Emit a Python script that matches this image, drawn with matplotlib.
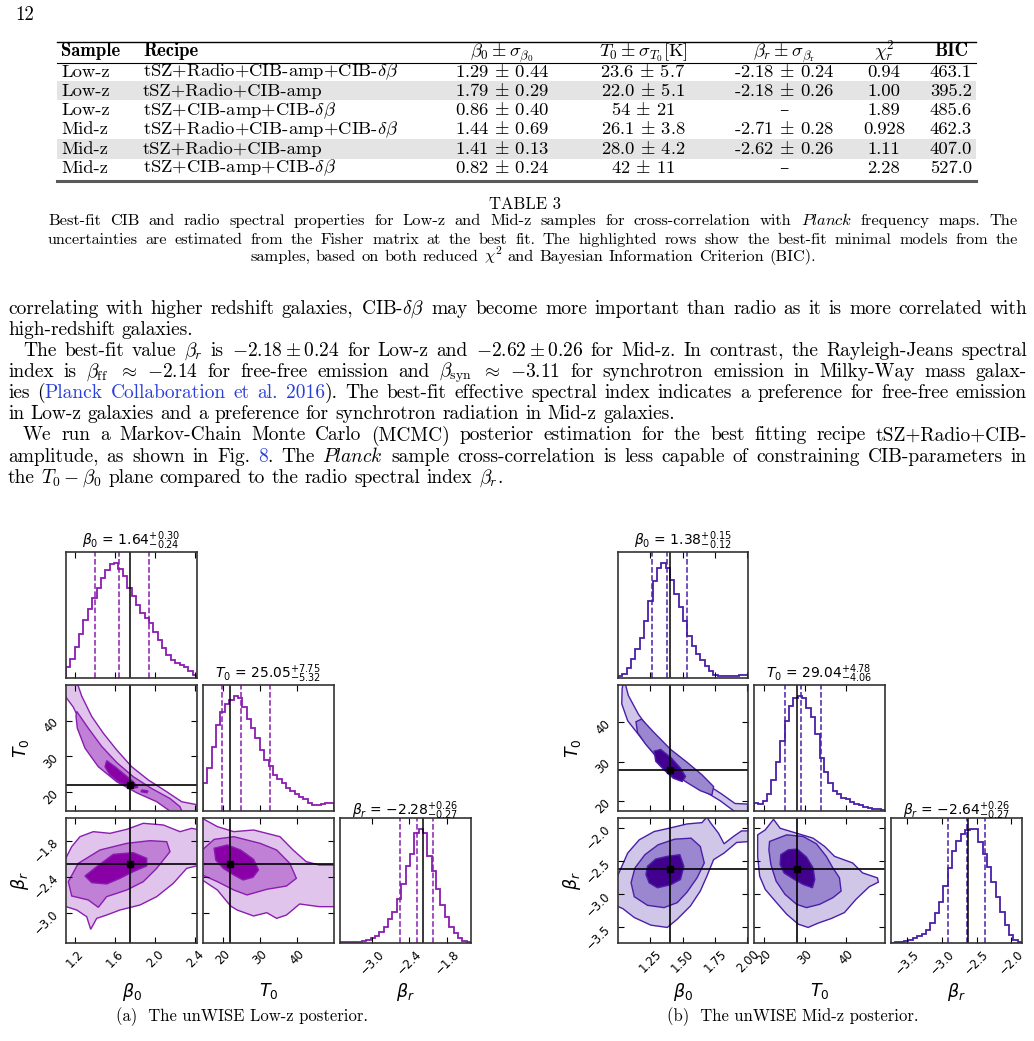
import matplotlib.pyplot as plt
import numpy as np

W, H = 1034, 1041
SERIF = ['cmr10', 'DejaVu Serif']
BOLD = ['cmb10', 'DejaVu Serif']
LINK = '#2a3fd9'

# ---------------- Table 3 ----------------
samples = ['Low-z', 'Low-z', 'Low-z', 'Mid-z', 'Mid-z', 'Mid-z']
recipes = [r'tSZ+Radio+CIB-amp+CIB-$\delta\beta$', 'tSZ+Radio+CIB-amp',
           r'tSZ+CIB-amp+CIB-$\delta\beta$'] * 2
beta0_fit = ['1.29 $\\pm$ 0.44', '1.79 $\\pm$ 0.29', '0.86 $\\pm$ 0.40',
             '1.44 $\\pm$ 0.69', '1.41 $\\pm$ 0.13', '0.82 $\\pm$ 0.24']
T0_fit = ['23.6 $\\pm$ 5.7', '22.0 $\\pm$ 5.1', '54 $\\pm$ 21',
          '26.1 $\\pm$ 3.8', '28.0 $\\pm$ 4.2', '42 $\\pm$ 11']
betar_fit = ['-2.18 $\\pm$ 0.24', '-2.18 $\\pm$ 0.26', '–',
             '-2.71 $\\pm$ 0.28', '-2.62 $\\pm$ 0.26', '–']
chi2_r = ['0.94', '1.00', '1.89', '0.928', '1.11', '2.28']
bic = ['463.1', '395.2', '485.6', '462.3', '407.0', '527.0']
highlighted = [1, 4]
headers = ['Sample', 'Recipe', r'$\beta_0\pm\sigma_{\beta_0}$', r'$T_0\pm\sigma_{T_0}$[K]',
           r'$\beta_r\pm\sigma_{\beta_{\rm r}}$', r'$\chi^2_r$', 'BIC']

# ---------------- corner plots ----------------
params = ['b0', 'T0', 'br']
param_labels = [r'$\beta_0$', r'$T_0$', r'$\beta_r$']

# (median, +err, -err) as printed above the diagonal panels
low_summary = {'b0': (1.64, 0.30, 0.24), 'T0': (25.05, 7.75, 5.32), 'br': (-2.28, 0.26, 0.27)}
mid_summary = {'b0': (1.38, 0.15, 0.12), 'T0': (29.04, 4.78, 4.06), 'br': (-2.64, 0.26, 0.27)}
low_truth = {'b0': 1.75, 'T0': 22.0, 'br': -2.18}
mid_truth = {'b0': 1.40, 'T0': 28.0, 'br': -2.62}
low_range = {'b0': (1.11, 2.42), 'T0': (14.7, 50.0), 'br': (-3.51, -1.415)}
mid_range = {'b0': (1.0, 2.005), 'T0': (17.5, 49.4), 'br': (-3.735, -1.845)}
low_ticks = {'b0': [1.2, 1.6, 2.0, 2.4], 'T0': [20, 30, 40], 'br': [-3.0, -2.4, -1.8]}
mid_ticks = {'b0': [1.25, 1.5, 1.75, 2.0], 'T0': [20, 30, 40], 'br': [-3.5, -3.0, -2.5, -2.0]}

# histogram heights (30 bins over the axis range)
low_hist_b0 = [32, 57, 92, 130, 172, 204, 237, 267, 297, 322, 337, 340, 324, 304, 267,
               242, 217, 194, 177, 162, 137, 112, 90, 67, 52, 46, 40, 32, 20, 10]
low_hist_T0 = [85, 130, 193, 260, 300, 325, 337, 347, 343, 315, 280, 250, 220, 185, 155,
               135, 110, 97, 85, 70, 60, 50, 43, 35, 25, 19, 19, 21, 23, 23]
low_hist_br = [2, 2, 2, 3, 4, 6, 9, 14, 21, 33, 50, 73, 95, 133, 180,
               235, 270, 333, 345, 335, 265, 220, 165, 115, 80, 50, 30, 15, 7, 3]
mid_hist_b0 = [5, 12, 30, 57, 85, 120, 170, 230, 287, 327, 340, 327, 290, 250, 210,
               170, 125, 95, 70, 53, 37, 20, 10, 5, 5, 5, 5, 6, 8, 10]
mid_hist_T0 = [25, 22, 30, 50, 93, 147, 210, 270, 315, 337, 343, 337, 307, 280, 230,
               160, 117, 85, 60, 50, 40, 35, 27, 22, 17, 13, 9, 7, 5, 4]
mid_hist_br = [1, 2, 4, 7, 10, 15, 20, 27, 40, 60, 90, 123, 173, 227, 277,
               307, 330, 340, 343, 343, 305, 270, 230, 183, 140, 95, 55, 25, 8, 2]

# credible-region outlines (x, y): level 0 light, 1 mid, 2 dark
low_T0_b0_light = [(1.223, 50.5), (1.267, 46.9), (1.367, 41.2), (1.483, 36.5), (1.617, 31.8),
                   (1.767, 27.1), (1.933, 23.4), (2.117, 20.1), (2.267, 17.3), (2.45, 16.3),
                   (2.45, 14.0), (2.267, 14.0), (2.15, 15.9), (1.983, 18.0), (1.783, 20.6),
                   (1.583, 25.4), (1.417, 31.2), (1.283, 38.0), (1.183, 43.8), (1.09, 47.3), (1.09, 50.5)]
low_T0_b0_mid = [(1.217, 42.6), (1.333, 37.9), (1.467, 32.8), (1.617, 28.3), (1.783, 24.3),
                 (1.967, 21.0), (2.15, 18.2), (2.25, 15.9), (2.277, 14.0), (2.183, 14.0),
                 (2.017, 17.3), (1.817, 19.8), (1.617, 22.9), (1.433, 27.1), (1.3, 32.3),
                 (1.223, 37.9), (1.21, 41.2)]
low_T0_b0_dark = [(1.517, 28.8), (1.6, 27.1), (1.7, 24.8), (1.783, 22.9), (1.83, 21.3),
                  (1.76, 21.1), (1.633, 22.9), (1.55, 24.8), (1.5, 27.1)]
low_T0_b0_dark2 = [(1.87, 20.6), (1.93, 20.3), (1.92, 19.8), (1.86, 20.1)]
low_br_b0_light = [(1.09, -2.147), (1.167, -1.895), (1.25, -1.728), (1.383, -1.644), (1.55, -1.672),
                   (1.717, -1.605), (1.883, -1.504), (2.083, -1.532), (2.25, -1.644), (2.367, -1.588),
                   (2.45, -1.616), (2.45, -2.203), (2.317, -2.259), (2.183, -2.51), (2.017, -2.733),
                   (1.85, -2.873), (1.65, -2.957), (1.517, -3.041), (1.417, -3.097), (1.357, -3.281),
                   (1.317, -3.069), (1.217, -2.957), (1.09, -2.89)]
low_br_b0_mid = [(1.133, -2.482), (1.233, -2.175), (1.45, -1.951), (1.717, -1.84), (1.95, -1.795),
                 (2.117, -1.812), (2.15, -1.979), (2.017, -2.259), (1.883, -2.482), (1.717, -2.622),
                 (1.517, -2.733), (1.433, -2.912), (1.333, -2.789), (1.167, -2.722)]
low_br_b0_dark = [(1.3, -2.387), (1.417, -2.231), (1.583, -2.024), (1.783, -1.996), (1.917, -2.091),
                  (1.917, -2.219), (1.783, -2.314), (1.65, -2.426), (1.517, -2.521), (1.367, -2.499)]
low_br_T0_light = [(14.5, -1.42), (18.58, -1.56), (23.01, -1.644), (28.33, -1.616), (31.88, -1.672),
                   (35.43, -1.728), (38.97, -1.951), (42.52, -2.147), (46.06, -2.203), (50.5, -2.203),
                   (50.5, -2.901), (46.06, -2.901), (40.74, -2.856), (37.2, -3.041), (34.54, -3.097),
                   (31.88, -3.002), (28.33, -3.057), (23.9, -2.957), (22.13, -2.89), (18.58, -2.622),
                   (14.5, -2.454)]
low_br_T0_mid = [(14.5, -1.951), (17.7, -1.773), (23.01, -1.728), (30.11, -1.84), (34.54, -1.951),
                 (38.09, -2.175), (39.86, -2.426), (37.2, -2.555), (31.88, -2.61), (26.56, -2.705),
                 (23.01, -2.622), (18.58, -2.482), (14.5, -2.37)]
low_br_T0_dark = [(17.7, -1.923), (21.24, -1.867), (24.79, -1.951), (28.33, -2.108), (29.66, -2.286),
                  (28.16, -2.409), (25.5, -2.454), (23.01, -2.37), (20.18, -2.259), (18.14, -2.119)]

mid_T0_b0_light = [(1.055, 49.9), (1.08, 46.75), (1.157, 42.05), (1.259, 37.35), (1.361, 33.08),
                   (1.463, 29.66), (1.585, 26.41), (1.713, 23.68), (1.802, 21.79), (1.904, 19.4),
                   (2.02, 19.23), (2.02, 17.0), (1.917, 17.0), (1.79, 20.09), (1.687, 22.14),
                   (1.534, 24.96), (1.407, 27.95), (1.279, 31.97), (1.177, 36.07), (1.075, 40.34),
                   (1.029, 44.62), (1.032, 48.46), (1.04, 49.9)]
mid_T0_b0_mid = [(1.139, 40.09), (1.182, 40.77), (1.279, 37.35), (1.407, 33.08), (1.534, 29.83),
                 (1.649, 26.67), (1.739, 23.68), (1.726, 21.54), (1.636, 22.65), (1.521, 24.96),
                 (1.407, 27.78), (1.305, 30.94), (1.215, 34.36), (1.151, 37.35)]
mid_T0_b0_dark = [(1.279, 32.65), (1.33, 33.08), (1.412, 30.94), (1.483, 28.38), (1.522, 26.24),
                  (1.496, 24.96), (1.427, 25.81), (1.355, 27.95), (1.292, 30.09)]
mid_br_b0_light = [(0.99, -3.175), (0.99, -2.75), (1.024, -2.6), (1.075, -2.375), (1.164, -2.175),
                   (1.279, -2.05), (1.394, -2.0), (1.534, -1.935), (1.649, -1.915), (1.687, -1.83),
                   (1.718, -1.925), (1.777, -2.075), (1.82, -2.235), (1.892, -2.125), (1.955, -2.04),
                   (2.02, -2.04), (2.02, -2.2), (1.917, -2.215), (1.82, -2.375), (1.739, -2.475),
                   (1.687, -2.725), (1.636, -2.95), (1.56, -3.175), (1.458, -3.375), (1.381, -3.5),
                   (1.254, -3.465), (1.126, -3.35), (1.037, -3.215)]
mid_br_b0_mid = [(1.101, -2.825), (1.131, -2.6), (1.208, -2.4), (1.31, -2.25), (1.438, -2.165),
                 (1.565, -2.15), (1.636, -2.275), (1.667, -2.525), (1.611, -2.75), (1.534, -2.965),
                 (1.458, -3.125), (1.356, -3.2), (1.228, -3.165), (1.126, -3.035)]
mid_br_b0_dark = [(1.228, -2.575), (1.292, -2.465), (1.381, -2.425), (1.478, -2.4), (1.509, -2.575),
                  (1.483, -2.775), (1.407, -2.855), (1.305, -2.9), (1.241, -2.825), (1.216, -2.7)]
mid_br_T0_light = [(18.39, -2.1), (20.24, -2.025), (22.25, -1.865), (23.86, -2.0), (27.87, -2.075),
                   (31.89, -2.15), (34.7, -2.275), (37.11, -2.425), (41.53, -2.525), (43.94, -2.675),
                   (47.55, -2.75), (47.79, -2.815), (45.54, -2.885), (42.33, -3.075), (39.52, -3.275),
                   (36.31, -3.365), (33.09, -3.435), (30.68, -3.5), (28.27, -3.45), (25.46, -3.3),
                   (22.65, -3.1), (20.24, -2.925), (18.88, -2.725), (18.39, -2.425)]
mid_br_T0_mid = [(21.29, -2.2), (25.46, -2.1), (29.48, -2.125), (32.69, -2.235), (35.1, -2.425),
                 (36.71, -2.6), (38.31, -2.75), (38.71, -2.95), (36.71, -3.05), (33.49, -3.15),
                 (30.28, -3.2), (27.87, -3.15), (25.06, -3.0), (22.89, -2.8), (21.61, -2.55),
                 (21.12, -2.325)]
mid_br_T0_dark = [(24.02, -2.4), (25.86, -2.325), (28.03, -2.315), (30.28, -2.435), (31.89, -2.6),
                  (32.29, -2.775), (31.73, -2.9), (29.48, -2.85), (27.07, -2.765), (24.82, -2.675),
                  (23.86, -2.55)]

low_panels = {(1, 0): [(0, low_T0_b0_light), (1, low_T0_b0_mid), (2, low_T0_b0_dark), (2, low_T0_b0_dark2)],
              (2, 0): [(0, low_br_b0_light), (1, low_br_b0_mid), (2, low_br_b0_dark)],
              (2, 1): [(0, low_br_T0_light), (1, low_br_T0_mid), (2, low_br_T0_dark)]}
mid_panels = {(1, 0): [(0, mid_T0_b0_light), (1, mid_T0_b0_mid), (2, mid_T0_b0_dark)],
              (2, 0): [(0, mid_br_b0_light), (1, mid_br_b0_mid), (2, mid_br_b0_dark)],
              (2, 1): [(0, mid_br_T0_light), (1, mid_br_T0_mid), (2, mid_br_T0_dark)]}
low_hists = {'b0': low_hist_b0, 'T0': low_hist_T0, 'br': low_hist_br}
mid_hists = {'b0': mid_hist_b0, 'T0': mid_hist_T0, 'br': mid_hist_br}

fig = plt.figure(figsize=(W / 100, H / 100), dpi=100)
renderer = fig.canvas.get_renderer()


def fx(x):
    return x / W


def fy(y):
    return 1 - y / H


def tokens(*chunks):
    out = []
    for c in chunks:
        if isinstance(c, str):
            out += [[(w, {})] for w in c.split()]
        else:
            out.append(c)
    return out


def link(s, tail=''):
    parts = [(s, {'color': LINK})]
    if tail:
        parts.append((tail, {}))
    return parts


ITAL_PLANCK = [(r'$\mathit{Planck}$', {})]


def draw_words(toks, x0, x1, y, size, mode='justify'):
    groups = []
    for word in toks:
        g = []
        for s, kw in word:
            t = fig.text(0, fy(y), s, fontsize=size, family=SERIF, math_fontfamily='cm',
                         va='baseline', **kw)
            g.append((t, t.get_window_extent(renderer).width))
        groups.append(g)
    widths = [sum(w for _, w in g) for g in groups]
    space = size * 100 / 72 * 0.33
    if mode == 'justify' and len(groups) > 1:
        gap = (x1 - x0 - sum(widths)) / (len(groups) - 1)
    else:
        gap = space
    x = x0
    if mode == 'center':
        x = (x0 + x1) / 2 - (sum(widths) + gap * (len(groups) - 1)) / 2
    for g in groups:
        for t, w in g:
            t.set_x(fx(x))
            x += w
        x += gap


# page number
fig.text(fx(15), fy(20), '12', fontsize=13.5, family=SERIF, va='baseline')

# ---- table ----
tx0, tx1 = 57, 976
row_y = [71.7, 90.7, 110.0, 129.3, 149.0, 167.7]
for r in highlighted:
    fig.add_artist(plt.Rectangle((fx(tx0), fy(row_y[r] + 9.5)), (tx1 - tx0) / W, 19 / H,
                                 facecolor='#e4e4e4', edgecolor='none', zorder=0))
fig.add_artist(plt.Line2D([fx(tx0), fx(tx1)], [fy(41.7)] * 2, color='k', lw=1))
fig.add_artist(plt.Line2D([fx(tx0), fx(tx1)], [fy(62.5)] * 2, color='k', lw=0.8))
fig.add_artist(plt.Line2D([fx(tx0), fx(tx1)], [fy(180.5)] * 2, color='0.35', lw=2.2))

col_x = [61, 143, 502, 643, 784, 884, 951]
col_ha = ['left', 'left', 'center', 'center', 'center', 'center', 'center']
for k, h in enumerate(headers):
    fig.text(fx(col_x[k]), fy(56.5), h, fontsize=13.4, family=BOLD if k in (0, 1, 6) else SERIF,
             math_fontfamily='cm', ha=col_ha[k], va='baseline')
columns = [samples, recipes, beta0_fit, T0_fit, betar_fit, chi2_r, bic]
for k, col in enumerate(columns):
    for r, v in enumerate(col):
        fig.text(fx(col_x[k]), fy(row_y[r] + 5), v, fontsize=13.4, family=SERIF,
                 math_fontfamily='cm', ha=col_ha[k], va='baseline')

fig.text(fx(525), fy(209), 'TABLE 3', fontsize=12, family=SERIF, ha='center', va='baseline')
cap1 = tokens('Best-fit CIB and radio spectral properties for Low-z and Mid-z samples for cross-correlation with',
              ITAL_PLANCK, 'frequency maps. The')
cap2 = tokens('uncertainties are estimated from the Fisher matrix at the best fit. The highlighted rows show the best-fit minimal models from the')
cap3 = tokens(r'samples, based on both reduced $\chi^2$ and Bayesian Information Criterion (BIC).')
draw_words(cap1, 48, 1018, 225, 11.8)
draw_words(cap2, 48, 1018, 243.5, 11.6)
draw_words(cap3, 48, 1018, 261, 11.8, mode='center')

# ---- body text ----
body = [
    (tokens(r'correlating with higher redshift galaxies, CIB-$\delta\beta$ may become more important than radio as it is more correlated with'), 8, 'justify'),
    (tokens('high-redshift galaxies.'), 8, 'left'),
    (tokens(r'The best-fit value $\beta_r$ is $-2.18\pm0.24$ for Low-z and $-2.62\pm0.26$ for Mid-z. In contrast, the Rayleigh-Jeans spectral'), 23, 'justify'),
    (tokens(r'index is $\beta_\mathrm{ff}$ $\approx$ $-2.14$ for free-free emission and $\beta_\mathrm{syn}$ $\approx$ $-3.11$ for synchrotron emission in Milky-Way mass galax-'), 8, 'justify'),
    (tokens('ies', [('(', {}), ('Planck', {'color': LINK})], link('Collaboration'), link('et'), link('al.'),
            link('2016', ').'), 'The best-fit effective spectral index indicates a preference for free-free emission'), 8, 'justify'),
    (tokens('in Low-z galaxies and a preference for synchrotron radiation in Mid-z galaxies.'), 8, 'left'),
    (tokens('We run a Markov-Chain Monte Carlo (MCMC) posterior estimation for the best fitting recipe tSZ+Radio+CIB-'), 23, 'justify'),
    (tokens('amplitude, as shown in Fig.', link('8', '.'), 'The', ITAL_PLANCK,
            'sample cross-correlation is less capable of constraining CIB-parameters in'), 8, 'justify'),
    (tokens(r'the $T_0-\beta_0$ plane compared to the radio spectral index $\beta_r$.'), 8, 'left'),
]
body_y = [314, 335, 356, 377, 398, 419, 440.5, 461.5, 483]
for (toks, x0, mode), y in zip(body, body_y):
    draw_words(toks, x0, 1027, y, 14, mode)


# ---- corner plots ----
rows_px = [(552, 678), (685, 811), (818, 943)]


def corner(cols_px, rng, ticks, hists, summary, truth, panels, color, fills):
    for i in range(3):
        for j in range(i + 1):
            x0, x1 = cols_px[j]
            y0, y1 = rows_px[i]
            ax = fig.add_axes([fx(x0), fy(y1), (x1 - x0) / W, (y1 - y0) / H])
            kx = params[j]
            ax.set_xlim(rng[kx])
            ax.set_xticks(ticks[kx])
            if i == j:
                vals = hists[kx]
                edges = np.linspace(rng[kx][0], rng[kx][1], len(vals) + 1)
                ax.stairs(vals, edges, color=color, lw=1.3)
                ax.set_ylim(0, 1.1 * max(vals))
                ax.set_yticks([])
                med, up, lo = summary[kx]
                for q in (med - lo, med, med + up):
                    ax.axvline(q, color=color, ls='--', lw=1.1)
                ax.axvline(truth[kx], color='k', lw=1.1)
                ax.set_title(param_labels[j] + ' = ' + f'${med:.2f}^{{+{up:.2f}}}_{{-{lo:.2f}}}$',
                             fontsize=10, pad=2)
            else:
                ky = params[i]
                ax.set_ylim(rng[ky])
                ax.set_yticks(ticks[ky])
                for lev, poly in panels[(i, j)]:
                    xs, ys = zip(*poly)
                    ax.fill(xs, ys, facecolor=fills[lev], edgecolor=color, lw=1.0)
                ax.axvline(truth[kx], color='k', lw=1.2)
                ax.axhline(truth[ky], color='k', lw=1.2)
                ax.plot(truth[kx], truth[ky], 's', color='k', ms=5)
            ax.tick_params(direction='in', top=True, right=True, length=4, width=0.8,
                           labelsize=8.5)
            for sp in ax.spines.values():
                sp.set_linewidth(1.2)
                sp.set_color('0.2')
            if i == 2:
                ax.tick_params(axis='x', labelrotation=45)
                ax.set_xlabel(param_labels[j], fontsize=12.5)
                ax.xaxis.set_label_coords(0.5, -0.3)
            else:
                ax.set_xticklabels([])
            if j == 0 and i > 0:
                ax.tick_params(axis='y', labelrotation=45)
                ax.set_ylabel(param_labels[i], fontsize=12.5)
                ax.yaxis.set_label_coords(-0.27, 0.5)
            elif i != j:
                ax.set_yticklabels([])


corner([(66, 197), (203, 334), (340, 471)], low_range, low_ticks, low_hists, low_summary,
       low_truth, low_panels, '#8a1db0', ['#e0c4ec', '#bf80d6', '#8800a6'])
corner([(618, 748), (754, 885), (891, 1022)], mid_range, mid_ticks, mid_hists, mid_summary,
       mid_truth, mid_panels, '#4a1fa8', ['#cfc6e8', '#9b87cf', '#42008f'])

fig.text(fx(242), fy(1021), '(a)  The unWISE Low-z posterior.', fontsize=12, family=SERIF,
         ha='center', va='baseline')
fig.text(fx(793), fy(1021), '(b)  The unWISE Mid-z posterior.', fontsize=12, family=SERIF,
         ha='center', va='baseline')

fig.savefig('out.png', dpi=100)
